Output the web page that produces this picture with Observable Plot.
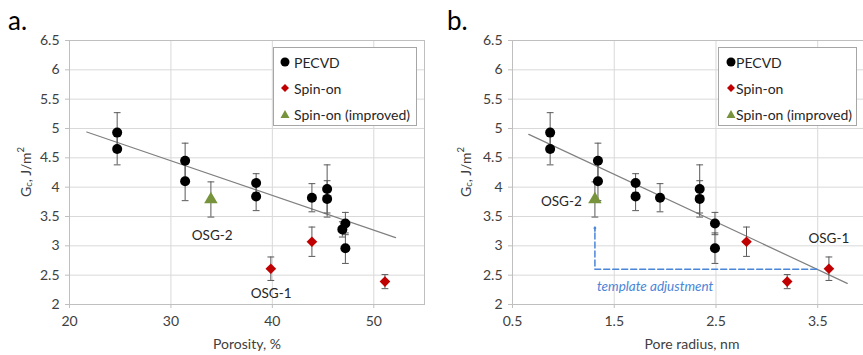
<!DOCTYPE html>
<html><head><meta charset="utf-8">
<script src="https://cdn.jsdelivr.net/npm/d3@7"></script>
<script src="https://cdn.jsdelivr.net/npm/@observablehq/plot@0.6"></script>
<style>
body{margin:0;background:#fff;font-family:Lato,"Open Sans",sans-serif;}
#wrap{position:relative;width:863px;height:355px;overflow:hidden;background:#fff;}
.panel{position:absolute;top:0;}
.plabel{position:absolute;font-size:26px;line-height:26px;color:#000;}
.legend{position:absolute;border:1px solid #a6a6a6;background:#fff;font-size:14px;color:#262626;box-sizing:border-box;}
.legend .row{position:absolute;left:0;height:16px;display:flex;align-items:center;white-space:nowrap;}
.legend svg{display:block;}
</style></head><body><div id="wrap"></div>
<script>
// ---- data ----
const seriesNames = ["PECVD", "Spin-on", "Spin-on (improved)"];
const pecvdPorosity = [24.7, 24.7, 31.4, 31.4, 38.4, 38.4, 43.9, 45.4, 45.4, 46.9, 47.2, 47.2];
const pecvdRadius   = [0.87, 0.87, 1.34, 1.34, 1.71, 1.71, 1.95, 2.34, 2.34, null, 2.49, 2.49];
const pecvdGc       = [4.93, 4.65, 4.45, 4.10, 4.07, 3.84, 3.82, 3.97, 3.80, 3.28, 3.38, 2.96];
const pecvdErr      = [0.34, 0.27, 0.30, 0.33, 0.16, 0.24, 0.24, 0.41, 0.31, 0.13, 0.19, 0.26];
const spinPorosity = [39.85, 43.9, 51.1];
const spinRadius   = [3.61, 2.80, 3.20];
const spinGc       = [2.61, 3.07, 2.39];
const spinErr      = [0.20, 0.25, 0.12];
const impPorosity = [33.94];
const impRadius   = [1.31];
const impGc       = [3.79];
const impErr      = [0.30];
const trendA = {x: [21.7, 52.15], y: [4.94, 3.14]};
const trendB = {x: [0.66, 3.79], y: [4.90, 2.36]};
const yTicks = [2, 2.5, 3, 3.5, 4, 4.5, 5, 5.5, 6, 6.5];
const xTicksA = [20, 30, 40, 50];
const xTicksB = [0.5, 1.5, 2.5, 3.5];
const labelsA = {text: ["OSG-2", "OSG-1"], x: [34.07, 39.88], y: [3.18, 2.18]};
const labelsB = {text: ["OSG-2", "OSG-1"], x: [0.98, 3.61], y: [3.76, 3.13]};
const arrowPath = {x: [3.49, 1.31, 1.31], y: [2.60, 2.60, 3.27]};
const arrowHead = {x1: 1.31, y1: 3.25, x2: 1.31, y2: 3.32};
const arrowLabel = {text: "template adjustment", x: 1.33, y: 2.31};

const colors = {PECVD: "#000000", "Spin-on": "#c00000", "Spin-on (improved)": "#77933c"};
const fontFamily = "Lato, 'Open Sans', sans-serif";

function rows(xs, ys, es) {
  return xs.map((x, i) => ({x, y: ys[i], e: es[i]})).filter(d => d.x != null);
}
const capSymbol = {draw(ctx, size) { const r = Math.sqrt(size / Math.PI); ctx.moveTo(-r, 0); ctx.lineTo(r, 0); }};

function errMarks(data) {
  return [
    Plot.ruleX(data, {x: "x", y1: d => d.y - d.e, y2: d => d.y + d.e, stroke: "#595959", strokeWidth: 1}),
    Plot.dot(data, {x: "x", y: d => d.y + d.e, symbol: capSymbol, r: 3.4, stroke: "#595959", fill: "none", strokeWidth: 1}),
    Plot.dot(data, {x: "x", y: d => d.y - d.e, symbol: capSymbol, r: 3.4, stroke: "#595959", fill: "none", strokeWidth: 1})
  ];
}

function makePanel({xDomain, xTicks, xFmt, width, marginLeft, marginRight, pecvd, spin, imp, trend, labels, extra}) {
  return Plot.plot({
    width, height: 355, marginLeft, marginRight, marginTop: 40, marginBottom: 51,
    x: {domain: xDomain}, y: {domain: [2, 6.5]},
    style: {fontFamily, fontSize: "14px", color: "#404040", background: "transparent", overflow: "visible"},
    marks: [
      Plot.gridX(xTicks, {stroke: "#d9d9d9", strokeOpacity: 1}),
      Plot.gridY(yTicks, {stroke: "#d9d9d9", strokeOpacity: 1}),
      Plot.frame({stroke: "#bfbfbf"}),
      Plot.axisY(yTicks, {tickSize: 4, tickPadding: 6, label: null, tickFormat: d => String(d), stroke: "#bfbfbf", fill: "#404040", fontSize: 14}),
      Plot.axisX(xTicks, {tickSize: 4, tickPadding: 8, label: null, tickFormat: xFmt, stroke: "#bfbfbf", fill: "#404040", fontSize: 14}),
      Plot.line(trend.x.map((x, i) => ({x, y: trend.y[i]})), {x: "x", y: "y", stroke: "#808080", strokeWidth: 1.2}),
      ...(extra || []),
      ...errMarks(pecvd), ...errMarks(spin), ...errMarks(imp),
      Plot.dot(pecvd, {x: "x", y: "y", r: 5, fill: colors.PECVD}),
      Plot.dot(spin, {x: "x", y: "y", symbol: "diamond2", r: 4.8, fill: colors["Spin-on"]}),
      Plot.dot(imp, {x: "x", y: "y", symbol: "triangle", r: 5, fill: colors["Spin-on (improved)"]}),
      Plot.text(labels.text.map((t, i) => ({t, x: labels.x[i], y: labels.y[i]})), {x: "x", y: "y", text: "t", fill: "#262626", fontSize: 13.5})
    ]
  });
}

const wrap = document.getElementById("wrap");

const plotA = makePanel({
  xDomain: [20, 55], xTicks: xTicksA, xFmt: d => String(d), width: 431, marginLeft: 69, marginRight: 7,
  pecvd: rows(pecvdPorosity, pecvdGc, pecvdErr), spin: rows(spinPorosity, spinGc, spinErr), imp: rows(impPorosity, impGc, impErr),
  trend: trendA, labels: labelsA
});
const plotB = makePanel({
  xDomain: [0.5, 3.95], xTicks: xTicksB, xFmt: d => d.toFixed(1), width: 432, marginLeft: 81, marginRight: 0,
  pecvd: rows(pecvdRadius, pecvdGc, pecvdErr), spin: rows(spinRadius, spinGc, spinErr), imp: rows(impRadius, impGc, impErr),
  trend: trendB, labels: labelsB,
  extra: [
    Plot.line(arrowPath.x.map((x, i) => ({x, y: arrowPath.y[i]})), {x: "x", y: "y", stroke: "#4a86d8", strokeWidth: 1.5, strokeDasharray: "6,3"}),
    Plot.arrow([arrowHead], {x1: "x1", y1: "y1", x2: "x2", y2: "y2", stroke: "#4a86d8", strokeWidth: 1.5, headLength: 9, bend: 0}),
    Plot.text([arrowLabel], {x: "x", y: "y", text: "text", textAnchor: "start", fill: "#4a86d8", fontStyle: "italic", fontSize: 13.5})
  ]
});

function place(svg, left) {
  const d = document.createElement("div");
  d.className = "panel"; d.style.left = left + "px";
  d.appendChild(svg); wrap.appendChild(d);
  return svg;
}
place(plotA, 0);
place(plotB, 431);

// axis titles
function yTitle(svg, cx) {
  const t = d3.select(svg).append("text")
    .attr("transform", `translate(${cx},172) rotate(-90)`)
    .attr("text-anchor", "middle").attr("dominant-baseline", "middle")
    .attr("font-family", fontFamily).attr("font-size", 14).attr("fill", "#404040");
  t.append("tspan").text("G");
  t.append("tspan").text("c").attr("font-size", 9.5).attr("dy", 3);
  t.append("tspan").text(", J/m").attr("dy", -3);
  t.append("tspan").text("2").attr("font-size", 9.5).attr("dy", -5);
}
function xTitle(svg, cx, text) {
  d3.select(svg).append("text").attr("x", cx).attr("y", 345)
    .attr("text-anchor", "middle").attr("dominant-baseline", "middle")
    .attr("font-family", fontFamily).attr("font-size", 14).attr("fill", "#404040").text(text);
}
yTitle(plotA, 27); xTitle(plotA, 247, "Porosity, %");
yTitle(plotB, 36); xTitle(plotB, 261, "Pore radius, nm");

// panel letters
[["a.", 8], ["b.", 447]].forEach(([t, x]) => {
  const d = document.createElement("div");
  d.className = "plabel"; d.textContent = t; d.style.left = x + "px"; d.style.top = "7px";
  wrap.appendChild(d);
});

// legends
function legend(left, width, markerX, textX) {
  const box = document.createElement("div");
  box.className = "legend";
  Object.assign(box.style, {left: left + "px", top: "47px", width: width + "px", height: "79px"});
  const shapes = {
    "PECVD": `<circle cx="6" cy="6" r="4.5" fill="${colors.PECVD}"/>`,
    "Spin-on": `<path d="M6 2 L10 6 L6 10 L2 6 Z" fill="${colors["Spin-on"]}"/>`,
    "Spin-on (improved)": `<path d="M6 2 L10.5 10 L1.5 10 Z" fill="${colors["Spin-on (improved)"]}"/>`
  };
  seriesNames.forEach((name, i) => {
    const r = document.createElement("div");
    r.className = "row";
    r.style.top = (6 + i * 26) + "px";
    r.style.left = (markerX - 6) + "px";
    r.innerHTML = `<svg width="12" height="12">${shapes[name]}</svg><span style="margin-left:${textX - markerX - 6}px">${name}</span>`;
    box.appendChild(r);
  });
  wrap.appendChild(box);
}
legend(273, 144, 11, 20);
legend(718, 139, 12, 17);
</script></body></html>
